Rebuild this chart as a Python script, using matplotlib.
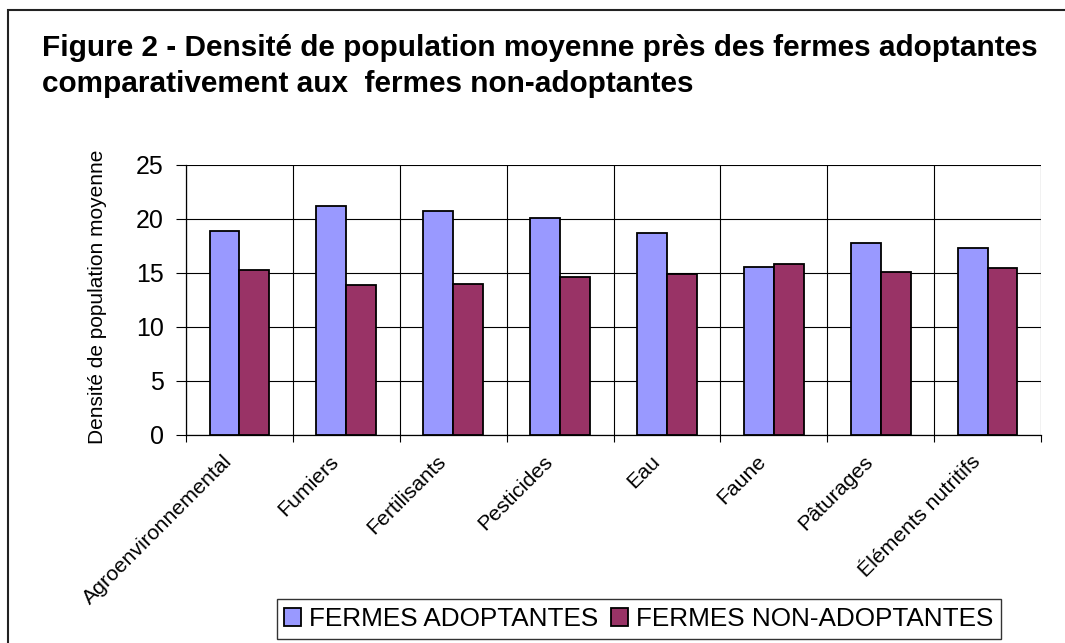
import matplotlib
matplotlib.use("Agg")
import matplotlib.pyplot as plt
from matplotlib.patches import Rectangle
from matplotlib.transforms import ScaledTranslation
import numpy as np

plt.rcParams["font.family"] = ["Liberation Sans", "DejaVu Sans"]

# ── Data ────────────────────────────────────────────
categories = ["Agroenvironnemental", "Fumiers", "Fertilisants", "Pesticides",
              "Eau", "Faune", "Pâturages", "Éléments nutritifs"]
adoptantes = [18.9, 21.2, 20.7, 20.1, 18.7, 15.6, 17.8, 17.3]
non_adoptantes = [15.3, 13.9, 14.0, 14.6, 14.9, 15.8, 15.1, 15.5]
series_names = ["FERMES ADOPTANTES", "FERMES NON-ADOPTANTES"]
yticks = [0, 5, 10, 15, 20, 25]

BLUE = "#9999FF"
MAROON = "#993366"

fig = plt.figure(figsize=(10.65, 6.43), dpi=100, facecolor="white")

# outer chart frame (cut off at right/bottom like the original)
fig.patches.append(Rectangle((8 / 1065, -0.05), 1.1, 1.05 - 10 / 643,
                             transform=fig.transFigure, fill=False,
                             edgecolor="#222222", lw=1.5, zorder=0))

title_kw = dict(fontsize=21.4, fontweight="bold", ha="left", va="baseline")
fig.text(42 / 1065, 1 - 56 / 643,
         "Figure 2 - Densité de population moyenne près des fermes adoptantes",
         **title_kw)
fig.text(42 / 1065, 1 - 92 / 643,
         "comparativement aux  fermes non-adoptantes", **title_kw)

ax = fig.add_axes([186 / 1065, 1 - 435 / 643, (1041 - 186) / 1065, (435 - 165) / 643])

x = np.arange(len(categories))
w = 0.28
ax.bar(x - w / 2, adoptantes, width=w, color=BLUE, edgecolor="black",
       lw=1.3, label=series_names[0], zorder=3)
ax.bar(x + w / 2, non_adoptantes, width=w, color=MAROON, edgecolor="black",
       lw=1.3, label=series_names[1], zorder=3)

ax.set_xlim(-0.5, len(categories) - 0.5)
ax.set_ylim(0, 25)
ax.set_yticks(yticks)
ax.tick_params(axis="y", direction="out", length=7, width=0.8, labelsize=18, pad=9)

# category labels (rotated, nudged left like Excel), ticks + grid at boundaries
ax.set_xticks(x)
ax.set_xticklabels([])
ax.tick_params(axis="x", which="major", length=0)
shift = ScaledTranslation(-17 / 100, -17 / 100, fig.dpi_scale_trans)
for i, cat in enumerate(categories):
    ax.text(i, 0, cat, rotation=45, ha="right", va="top", rotation_mode="anchor",
            fontsize=15.3, transform=ax.get_xaxis_transform() + shift)
ax.set_xticks(np.arange(len(categories) + 1) - 0.5, minor=True)
ax.tick_params(axis="x", which="minor", direction="out", length=5, width=0.8)

ax.grid(axis="y", color="black", lw=0.8, zorder=0)
ax.grid(axis="x", which="minor", color="black", lw=0.8, zorder=0)
for side in ["top", "right"]:
    ax.spines[side].set_visible(False)
for side in ["left", "bottom"]:
    ax.spines[side].set_linewidth(0.9)

ax.set_ylabel("Densité de population moyenne", fontsize=15)
ax.yaxis.set_label_coords(-0.092, 0.51)

fig.legend(loc="center", bbox_to_anchor=(639 / 1065, 1 - 619 / 643), ncol=2,
           fontsize=18.8, frameon=True, fancybox=False, edgecolor="black",
           handlelength=0.65, handleheight=0.65, handletextpad=0.3,
           columnspacing=0.5, borderpad=0.3, borderaxespad=0)

fig.savefig("out.png", dpi=100, facecolor="white")
